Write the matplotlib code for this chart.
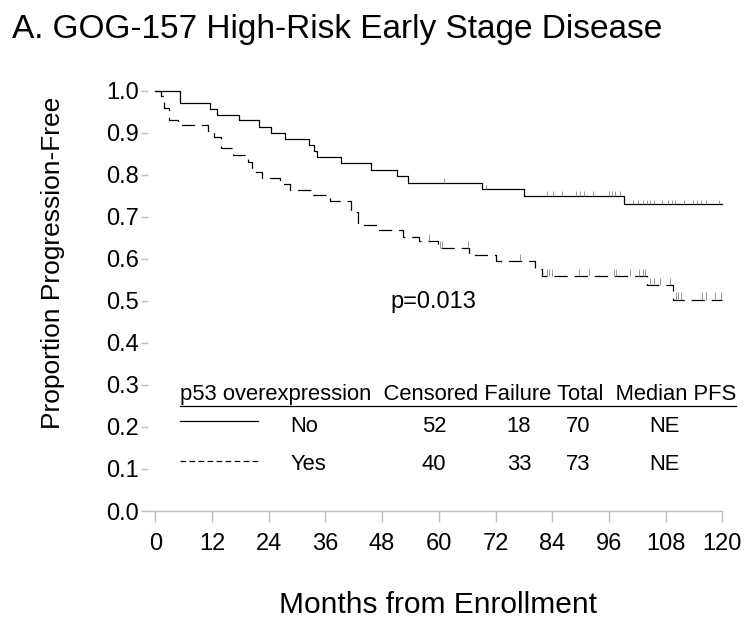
import numpy as np
import matplotlib
matplotlib.use("Agg")
import matplotlib.pyplot as plt

plt.rcParams['font.family'] = ['Liberation Sans', 'DejaVu Sans']
plt.rcParams['lines.scale_dashes'] = False

# Kaplan-Meier steps (months, proportion after the step)
no_t = [0, 5.3, 11.6, 13.0, 17.6, 21.9, 24.4, 27.5, 32.5, 33.5, 34.2, 39.4, 45.7,
        51.1, 53.4, 69.1, 78.0, 99.1, 120]
no_s = [1.0, 0.971, 0.957, 0.943, 0.929, 0.914, 0.900, 0.885, 0.871, 0.857, 0.842,
        0.827, 0.811, 0.796, 0.781, 0.766, 0.750, 0.730, 0.730]
no_cens = [61.2, 69.9, 82.9, 84.2, 86.0, 89.0, 89.9, 90.7, 92.7, 96.0, 96.6, 97.2,
           98.3, 101.2, 102.1, 103.2, 104.0, 104.8, 105.5, 107.3, 108.6, 109.3,
           109.9, 111.9, 113.7, 114.7, 115.6, 116.5, 119.4]

yes_t = [0, 1.2, 1.9, 2.8, 4.7, 11.2, 12.4, 14.0, 16.5, 19.7, 20.5, 22.6, 26.4,
         28.5, 33.4, 37.0, 41.5, 42.9, 46.9, 52.4, 55.8, 59.8, 66.3, 72.2, 80.3,
         81.8, 104.1, 109.6, 120]
yes_s = [1.0, 0.986, 0.959, 0.930, 0.917, 0.903, 0.889, 0.863, 0.847, 0.830, 0.806,
         0.793, 0.778, 0.764, 0.752, 0.738, 0.710, 0.681, 0.669, 0.652, 0.641,
         0.625, 0.609, 0.594, 0.576, 0.559, 0.538, 0.503, 0.503]
yes_cens = [57.9, 60.2, 60.7, 66.2, 77.1, 82.9, 83.4, 83.9, 89.7, 91.7, 97.0, 97.6,
            100.5, 102.3, 103.3, 103.7, 104.8, 105.5, 106.9, 109.0, 110.2, 110.7,
            111.2, 115.8, 116.6, 118.5, 119.8]

header = "p53 overexpression  Censored Failure Total  Median PFS"
groups = ["No", "Yes"]
censored = [52, 40]
failure = [18, 33]
total = [70, 73]
median_pfs = ["NE", "NE"]
p_text = "p=0.013"


def level_at(t, s, x):
    i = np.searchsorted(t, x, side='right') - 1
    return np.array(s)[i]


fig = plt.figure(figsize=(7.53, 6.33), dpi=100)
ax = fig.add_axes([0.1969, 0.1927, 0.7623, 0.6709])

gray = "#bdbdbd"
ax.step(no_t, no_s, where='post', color='black', lw=0.9, clip_on=False)
ax.step(yes_t, yes_s, where='post', color='black', lw=0.9, dashes=(9.5, 5),
        clip_on=False)

lv = level_at(no_t, no_s, no_cens)
ax.vlines(no_cens, lv, lv + 0.01, color='#888888', lw=0.6)
lv = level_at(yes_t, yes_s, yes_cens)
ax.vlines(yes_cens, lv, lv + 0.017, color='#888888', lw=0.6)

ax.set_xlim(-1.5, 120)
ax.set_ylim(0, 1.01)
ax.set_xticks(np.arange(0, 121, 12))
ax.set_yticks(np.arange(0, 1.01, 0.1))
ax.set_yticklabels([f"{v:.1f}" for v in np.arange(0, 1.01, 0.1)])
for side in ['top', 'right', 'left']:
    ax.spines[side].set_visible(False)
ax.spines['bottom'].set_color(gray)
ax.spines['bottom'].set_linewidth(1.0)
ax.tick_params(axis='x', colors=gray, labelcolor='black', length=8, width=1.0,
               labelsize=17, pad=8)
ax.tick_params(axis='y', colors=gray, labelcolor='black', length=5, width=1.0,
               labelsize=17, pad=2)

ax.text(49.7, 0.498, p_text, fontsize=17, va='center', ha='left')

# table / legend
fs = 15.8
ax.text(5.3, 0.278, header, fontsize=fs, va='center', ha='left')
ax.plot([5.3, 122.9], [0.249, 0.249], color='black', lw=0.9, clip_on=False)
row_y = [0.202, 0.111]
line_y = [0.214, 0.119]
ax.plot([5.3, 21.8], [line_y[0]] * 2, color='black', lw=0.9)
ax.plot([5.3, 21.8], [line_y[1]] * 2, color='black', lw=0.9, dashes=(4, 2.5))
for i in range(2):
    ax.text(28.6, row_y[i], groups[i], fontsize=fs, va='center', ha='left')
    ax.text(59.0, row_y[i], str(censored[i]), fontsize=fs, va='center', ha='center')
    ax.text(77.0, row_y[i], str(failure[i]), fontsize=fs, va='center', ha='center')
    ax.text(89.5, row_y[i], str(total[i]), fontsize=fs, va='center', ha='center')
    ax.text(107.7, row_y[i], median_pfs[i], fontsize=fs, va='center', ha='center')

fig.text(12 / 753, 1 - 38 / 633, "A. GOG-157 High-Risk Early Stage Disease",
         fontsize=24, ha='left', va='baseline')
fig.text(53 / 753, 1 - 263 / 633, "Proportion Progression-Free", fontsize=19,
         rotation=90, ha='center', va='center')
fig.text(438 / 753, 1 - 605 / 633, "Months from Enrollment", fontsize=21.5,
         ha='center', va='center')

fig.savefig("out.png", dpi=100)
